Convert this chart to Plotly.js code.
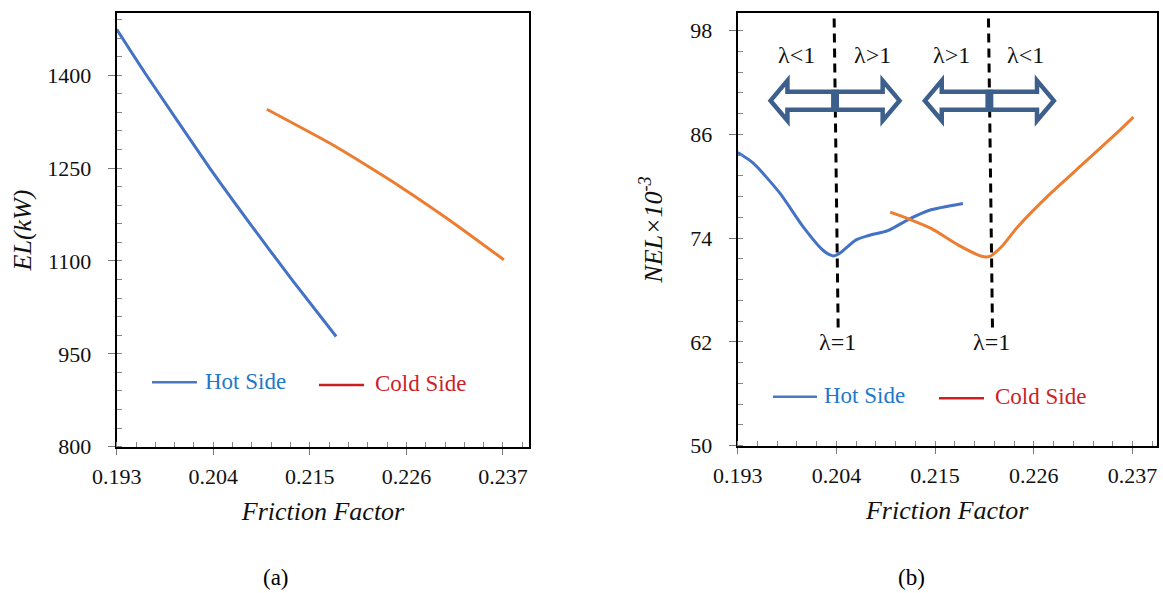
<!DOCTYPE html>
<html>
<head>
<meta charset="utf-8">
<script src="https://cdn.plot.ly/plotly-3.0.1.min.js"></script>
<style>html,body{margin:0;padding:0;background:#fff;}#chart{width:1163px;height:593px;}</style>
</head>
<body>
<div id="chart"></div>
<script>
// ---------- data ----------
// (a) EL(kW) vs friction factor
const hotFrictionA  = [0.193, 0.1962, 0.2036, 0.2082, 0.213, 0.218];
const hotELA        = [1474, 1404, 1250, 1160, 1069, 978];
const coldFrictionA = [0.2101, 0.2173, 0.2207, 0.2253, 0.2310, 0.2371];
const coldELA       = [1345, 1290, 1261, 1220, 1165, 1102];

// (b) NEL x 10^-3 vs friction factor
const hotFrictionB  = [0.193, 0.1947, 0.1977, 0.2003, 0.2025, 0.2036, 0.2043, 0.2062, 0.2076, 0.2098, 0.2121, 0.2143, 0.2181];
const hotNELB       = [83.9, 82.7, 79.2, 75.3, 72.6, 71.95, 72.2, 73.8, 74.3, 74.9, 76.2, 77.2, 78.0];
const coldFrictionB = [0.2100, 0.2121, 0.2146, 0.2176, 0.2202, 0.2211, 0.2224, 0.2242, 0.2279, 0.2316, 0.2356, 0.2371];
const coldNELB      = [77.0, 76.2, 75.1, 73.2, 71.9, 71.9, 73.0, 75.3, 79.2, 82.7, 86.5, 88.0];

// axis ticks
const frictionTicks = [0.193, 0.204, 0.215, 0.226, 0.237];
const elTicks  = [800, 950, 1100, 1250, 1400];
const nelTicks = [50, 62, 74, 86, 98];

// lambda = 1 positions (friction factor) and labels
const lambdaOneX = [0.2040, 0.2212];
const regionLabels = ['λ<1', 'λ>1', 'λ>1', 'λ<1'];
const regionLabelX = [0.1995, 0.2080, 0.2168, 0.2251];
const seriesNames = ['Hot Side', 'Cold Side'];

// ---------- styling ----------
const W = 1163, H = 593;
const SERIF = '"Liberation Serif", "Times New Roman", "DejaVu Serif", serif';
const BLUE = '#4472C4', ORANGE = '#ED7D31';
const ARROW = '#3C5F8C';
const px = v => v / W;
const py = v => 1 - v / H;

const traces = [
  {x: hotFrictionA, y: hotELA, xaxis: 'x', yaxis: 'y', mode: 'lines', name: seriesNames[0],
   line: {color: BLUE, width: 3, shape: 'spline', smoothing: 0.5}, showlegend: false, hoverinfo: 'x+y'},
  {x: coldFrictionA, y: coldELA, xaxis: 'x', yaxis: 'y', mode: 'lines', name: seriesNames[1],
   line: {color: ORANGE, width: 3, shape: 'spline', smoothing: 0.5}, showlegend: false, hoverinfo: 'x+y'},
  {x: hotFrictionB, y: hotNELB, xaxis: 'x2', yaxis: 'y2', mode: 'lines', name: seriesNames[0],
   line: {color: BLUE, width: 3, shape: 'spline', smoothing: 0.7}, showlegend: false, hoverinfo: 'x+y'},
  {x: coldFrictionB, y: coldNELB, xaxis: 'x2', yaxis: 'y2', mode: 'lines', name: seriesNames[1],
   line: {color: ORANGE, width: 3, shape: 'spline', smoothing: 0.7}, showlegend: false, hoverinfo: 'x+y'}
];

function xAxis(domain, range, anchor) {
  return {
    domain: domain, range: range, anchor: anchor,
    showline: true, mirror: true, linecolor: '#000', linewidth: 2,
    showgrid: false, zeroline: false,
    tickmode: 'array', tickvals: frictionTicks, ticktext: frictionTicks.map(v => v.toFixed(3)),
    ticks: 'outside', ticklen: 6, tickwidth: 1, tickcolor: '#777',
    ticklabelstandoff: 3,
    tickfont: {family: SERIF, size: 22, color: '#111'},
    minor: {tick0: 0.193, dtick: 0.0022, ticks: 'inside', ticklen: 5, tickcolor: '#888', tickwidth: 1, showgrid: false},
    title: {text: 'Friction Factor', standoff: 14, font: {family: SERIF, size: 26, style: 'italic', color: '#111'}},
    fixedrange: true
  };
}
function yAxis(domain, range, anchor, vals, minorDtick, title, standoff) {
  return {
    domain: domain, range: range, anchor: anchor,
    showline: true, mirror: true, linecolor: '#000', linewidth: 2,
    showgrid: false, zeroline: false,
    tickmode: 'array', tickvals: vals, ticktext: vals.map(String),
    ticks: 'outside', ticklen: 7, tickwidth: 1, tickcolor: '#777',
    ticklabelstandoff: 12,
    tickfont: {family: SERIF, size: 22, color: '#111'},
    minor: {tick0: range[0], dtick: minorDtick, ticks: 'inside', ticklen: 5, tickcolor: '#888', tickwidth: 1, showgrid: false},
    title: {text: title, standoff: standoff, font: {family: SERIF, size: 26, style: 'italic', color: '#111'}},
    fixedrange: true
  };
}

// double block arrow centred at (cx, cy) in data units of x2/y2
const pxPerX = 9045, pxPerY = 8.646;
function doubleArrow(cx, cy) {
  const X = d => (cx + d / pxPerX).toFixed(6);
  const Y = d => (cy + d / pxPerY).toFixed(4);
  const tip = 65, back = 48, hh = 20, sh = 9;
  const d = `M ${X(-back)},${Y(sh)} L ${X(back)},${Y(sh)} L ${X(back)},${Y(hh)} L ${X(tip)},${Y(0)} L ${X(back)},${Y(-hh)} L ${X(back)},${Y(-sh)} ` +
            `L ${X(-back)},${Y(-sh)} L ${X(-back)},${Y(-hh)} L ${X(-tip)},${Y(0)} L ${X(-back)},${Y(hh)} Z`;
  return [
    {type: 'path', xref: 'x2', yref: 'y2', path: d, line: {color: ARROW, width: 4.5}, fillcolor: '#fff', layer: 'above'},
    {type: 'rect', xref: 'x2', yref: 'y2', x0: X(-4), x1: X(4), y0: Y(-11), y1: Y(11), line: {width: 0}, fillcolor: ARROW, layer: 'above'}
  ];
}

const shapes = [];
// dashed lambda = 1 lines
lambdaOneX.forEach(x => {
  shapes.push({type: 'line', xref: 'x2', yref: 'y2', x0: x - 0.00025, x1: x + 0.0002, y0: 99.4, y1: 63.4,
               line: {color: '#000', width: 3, dash: '9px,6px'}, layer: 'above'});
});
const arrowY = 89.9;
shapes.push(...doubleArrow(0.20385, arrowY));
shapes.push(...doubleArrow(0.22105, arrowY));

// manual legends (line swatches)
function legendLine(x0, x1, y, color) {
  return {type: 'line', xref: 'paper', yref: 'paper', x0: px(x0), x1: px(x1), y0: py(y), y1: py(y),
          line: {color: color, width: 2.5}};
}
shapes.push(legendLine(152, 197, 382.3, '#4A78C2'));
shapes.push(legendLine(319, 364, 385, '#CC2020'));
shapes.push(legendLine(773, 817, 396.7, '#4A78C2'));
shapes.push(legendLine(939, 984, 398.3, '#CC2020'));

const annotations = [];
function legendText(x, y, text, color) {
  return {xref: 'paper', yref: 'paper', x: px(x), y: py(y), xanchor: 'left', yanchor: 'middle',
          text: text, showarrow: false, font: {family: SERIF, size: 23, color: color}};
}
annotations.push(legendText(203, 381.7, seriesNames[0], '#1F78C8'));
annotations.push(legendText(373, 383.3, seriesNames[1], '#CC1F2A'));
annotations.push(legendText(822, 395, seriesNames[0], '#1F78C8'));
annotations.push(legendText(993, 396, seriesNames[1], '#CC1F2A'));

regionLabels.forEach((t, i) => {
  annotations.push({xref: 'x2', yref: 'y2', x: regionLabelX[i], y: 95.2, text: t, showarrow: false,
                    xanchor: 'center', yanchor: 'middle', font: {family: SERIF, size: 24, color: '#111'}});
});
lambdaOneX.forEach(x => {
  annotations.push({xref: 'x2', yref: 'y2', x: x + 0.0001, y: 62.0, text: 'λ=1', showarrow: false,
                    xanchor: 'center', yanchor: 'middle', font: {family: SERIF, size: 24, color: '#111'}});
});
annotations.push({xref: 'paper', yref: 'paper', x: px(276), y: py(577), text: '(a)', showarrow: false,
                  xanchor: 'center', yanchor: 'middle', font: {family: SERIF, size: 23, color: '#000'}});
annotations.push({xref: 'paper', yref: 'paper', x: px(911), y: py(577), text: '(b)', showarrow: false,
                  xanchor: 'center', yanchor: 'middle', font: {family: SERIF, size: 23, color: '#000'}});

const layout = {
  width: W, height: H,
  margin: {l: 0, r: 0, t: 0, b: 0},
  paper_bgcolor: '#fff', plot_bgcolor: '#fff',
  font: {family: SERIF},
  showlegend: false,
  xaxis:  xAxis([116.7 / W, 529.3 / W], [0.193, 0.240], 'y'),
  yaxis:  yAxis([py(446.7), py(13.3)], [800, 1500], 'x', elTicks, 30, 'EL(kW)', 8),
  xaxis2: xAxis([737.7 / W, 1156.7 / W], [0.193, 0.2397], 'y2'),
  yaxis2: yAxis([py(445.7), py(13.3)], [50, 100], 'x2', nelTicks, 2.4, 'NEL×10<sup>-3</sup>', 20),
  shapes: shapes,
  annotations: annotations
};

Plotly.newPlot('chart', traces, layout, {displayModeBar: false, staticPlot: true});
</script>
</body>
</html>
